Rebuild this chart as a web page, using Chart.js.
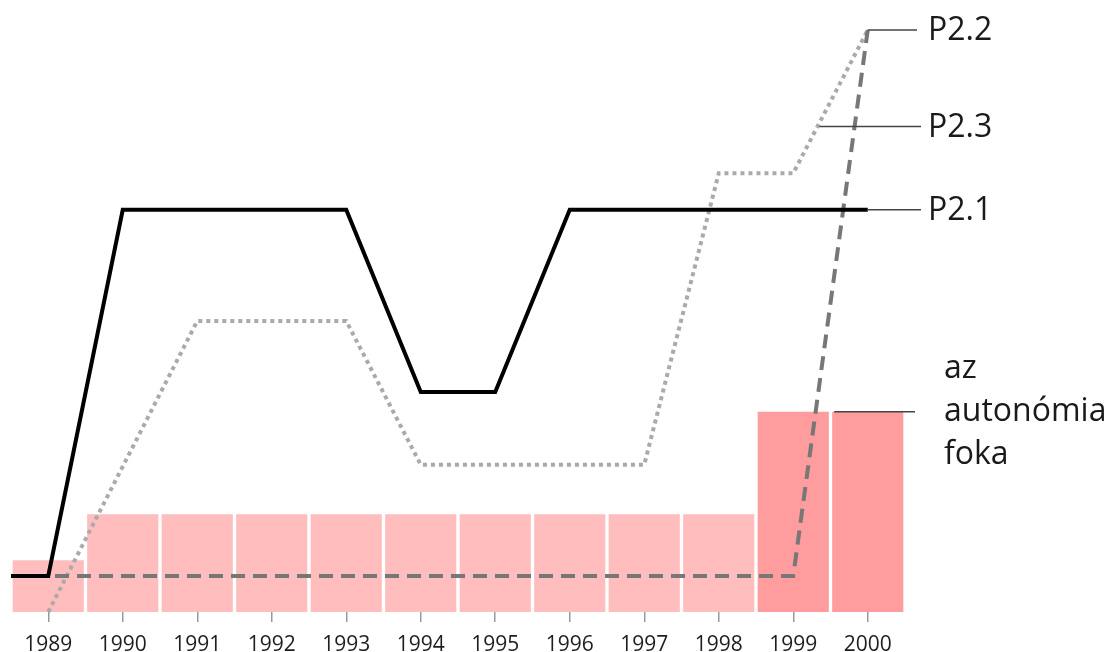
<!DOCTYPE html>
<html lang="hu">
<head>
<meta charset="UTF-8">
<title>Autonómia foka</title>
<script src="https://cdn.jsdelivr.net/npm/chart.js@4.4.1/dist/chart.umd.min.js"></script>
<style>
    html, body { margin: 0; padding: 0; background: #fff; }
    #wrap { width: 1112px; height: 652px; position: relative; }
</style>
</head>
<body>
<div id="wrap"><canvas id="chart"></canvas></div>
<script>
// evek es ertekek (0-100 skala, a grafikon teteje = 100)
const years = [1989, 1990, 1991, 1992, 1993, 1994, 1995, 1996, 1997, 1998, 1999, 2000];
const autonomia = [8.9, 16.8, 16.8, 16.8, 16.8, 16.8, 16.8, 16.8, 16.8, 16.8, 34.4, 34.4];
const p21 = [6.2, 69.1, 69.1, 69.1, 69.1, 37.8, 37.8, 69.1, 69.1, 69.1, 69.1, 69.1];
const p22 = [6.2, 6.2, 6.2, 6.2, 6.2, 6.2, 6.2, 6.2, 6.2, 6.2, 6.2, 100];
const p23 = [0, 25, 50, 50, 50, 25.3, 25.3, 25.3, 25.3, 75.4, 75.4, 100];
// a vonalak bal szele (1988.5-nel kezdodik)
const startP21 = 6.2;
const startP22 = 6.2;

const barColors = years.map(y => y >= 1999 ? '#ff9c9e' : '#ffbdbd');

function pts(vals) {
    return vals.map((v, i) => ({ x: years[i], y: v }));
}

// jobb oldali feliratok
const labels = [
    { text: ['P2.2'], year: 2000, lineEnd: 917, y: 100 },
    { text: ['P2.3'], year: 1999.35, lineEnd: 921, y: 83.4 },
    { text: ['P2.1'], year: 2000, lineEnd: 921, y: 69.1 },
    { text: ['az', 'autonómia', 'foka'], year: 1999.55, lineEnd: 915, y: 34.4 }
];

const sideLabels = {
    id: 'sideLabels',
    afterDatasetsDraw(chart) {
        const ctx = chart.ctx;
        const xs = chart.scales.x, ys = chart.scales.y;
        ctx.save();
        ctx.strokeStyle = '#444';
        ctx.lineWidth = 1.5;
        ctx.fillStyle = '#1a1a1a';
        ctx.font = '32px "Open Sans"';
        ctx.textBaseline = 'middle';
        labels.forEach(l => {
            const y = ys.getPixelForValue(l.y);
            const x0 = xs.getPixelForValue(l.year);
            ctx.beginPath();
            ctx.moveTo(x0, y);
            ctx.lineTo(l.lineEnd, y);
            ctx.stroke();
            if (l.text.length === 1) {
                ctx.fillText(l.text[0], 928, y + 1);
            } else {
                l.text.forEach((t, i) => ctx.fillText(t, 944, y + (i - 1) * 43));
            }
        });
        ctx.restore();
    }
};

new Chart(document.getElementById('chart'), {
    data: {
        datasets: [
            {
                type: 'line',
                label: 'P2.1',
                data: [{ x: 1988.5, y: startP21 }].concat(pts(p21)),
                borderColor: '#000',
                borderWidth: 4,
                pointRadius: 0,
                tension: 0,
                clip: false,
                order: 1
            },
            {
                type: 'line',
                label: 'P2.2',
                data: [{ x: 1988.5, y: startP22 }].concat(pts(p22)),
                borderColor: '#777',
                borderWidth: 4,
                borderDash: [14, 8],
                pointRadius: 0,
                tension: 0,
                clip: false,
                order: 2
            },
            {
                type: 'line',
                label: 'P2.3',
                data: pts(p23),
                borderColor: '#aaa',
                borderWidth: 4,
                borderDash: [4, 4],
                pointRadius: 0,
                tension: 0,
                clip: false,
                order: 3
            },
            {
                type: 'bar',
                label: 'az autonómia foka',
                data: pts(autonomia),
                backgroundColor: barColors,
                barPercentage: 1,
                categoryPercentage: 0.955,
                order: 10
            }
        ]
    },
    options: {
        responsive: true,
        maintainAspectRatio: false,
        animation: false,
        layout: { padding: { left: 11, right: 207, top: 30, bottom: 0 } },
        plugins: { legend: { display: false }, tooltip: { enabled: false } },
        scales: {
            x: {
                type: 'linear',
                min: 1988.5,
                max: 2000.5,
                offset: false,
                afterBuildTicks: axis => { axis.ticks = years.map(v => ({ value: v })); },
                afterFit: axis => { axis.height = 40; },
                grid: { display: true, offset: false, drawOnChartArea: false, tickLength: 10, color: '#999', lineWidth: 1.5 },
                border: { display: false },
                ticks: {
                    color: '#1e1e1e',
                    padding: 10,
                    font: { family: 'Open Sans', size: 21 },
                    callback: v => String(v),
                    maxRotation: 0,
                    autoSkip: false
                }
            },
            y: {
                display: false,
                min: 0,
                max: 100
            }
        }
    },
    plugins: [sideLabels]
});
</script>
</body>
</html>
